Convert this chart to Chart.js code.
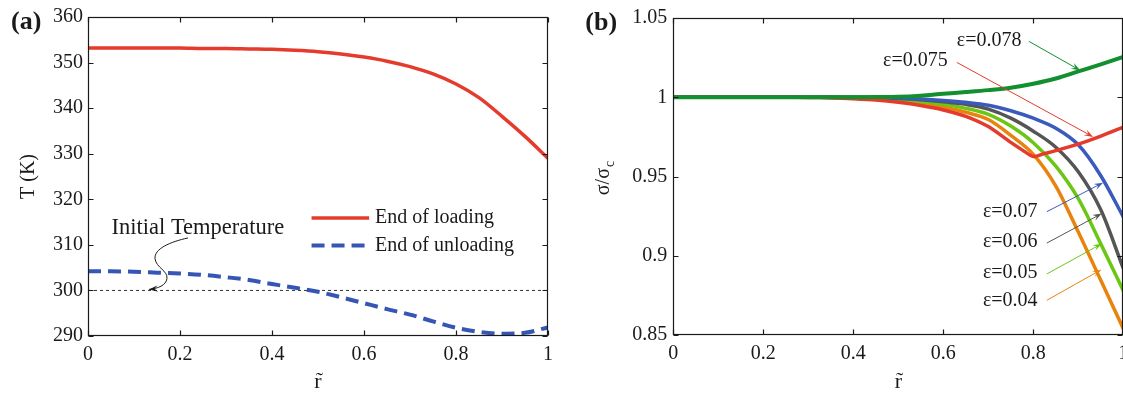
<!DOCTYPE html>
<html>
<head>
<meta charset="utf-8">
<script src="https://cdn.jsdelivr.net/npm/chart.js@4.4.0/dist/chart.umd.min.js"></script>
<style>
  html, body { margin: 0; padding: 0; background: #fff; overflow: hidden; }
  body { width: 1123px; height: 395px; position: relative; }
  .panel { position: absolute; top: 0; height: 395px; }
  #panelA { left: 0; width: 560px; }
  #panelB { left: 560px; width: 600px; }
</style>
</head>
<body>
<div class="panel" id="panelA"><canvas id="chartA"></canvas></div>
<div class="panel" id="panelB"><canvas id="chartB"></canvas></div>
<script>
// radial positions (normalised radius)
const rGrid = [0, 0.05, 0.1, 0.15, 0.2, 0.25, 0.3, 0.35, 0.4, 0.45, 0.5,
               0.55, 0.6, 0.65, 0.7, 0.75, 0.8, 0.85, 0.9, 0.95, 1];
const rTicks = [0, 0.2, 0.4, 0.6, 0.8, 1];
const tTicks = [290, 300, 310, 320, 330, 340, 350, 360];
const sTicks = [0.85, 0.9, 0.95, 1, 1.05];

// (a) temperature across the radius, K
const tLoading = [353.2, 353.2, 353.2, 353.2, 353.2, 353.1, 353.1, 353.0, 352.9, 352.7, 352.4,
                  351.9, 351.2, 350.3, 349.1, 347.5, 345.3, 342.3, 338.2, 333.8, 329.0];
const tUnloading = [304.2, 304.2, 304.1, 303.9, 303.7, 303.4, 302.9, 302.3, 301.4, 300.6, 299.7,
                    298.5, 297.2, 295.9, 294.7, 293.2, 291.8, 290.9, 290.5, 290.7, 291.9];
const tInitial = 300;
const seriesNamesA = ['End of loading', 'End of unloading'];

// (b) sigma / sigma_c for each strain level
const epsNames = ['ε=0.078', 'ε=0.075', 'ε=0.07', 'ε=0.06', 'ε=0.05', 'ε=0.04'];
const s078 = [1, 1, 1, 1, 1, 1, 1, 1, 1, 1.0001, 1.0003,
              1.0010, 1.0022, 1.0033, 1.0045, 1.0060, 1.0085, 1.0118, 1.0163, 1.0208, 1.0255];
// the 0.075 curve has a sharp turn near r = 0.8, so it gets two extra samples there
const r075 = [0, 0.05, 0.1, 0.15, 0.2, 0.25, 0.3, 0.35, 0.4, 0.45, 0.5,
              0.55, 0.6, 0.65, 0.7, 0.75, 0.775, 0.8, 0.825, 0.85, 0.9, 0.95, 1];
const s075 = [1, 1, 1, 1, 1, 1, 0.9999, 0.9996, 0.9990, 0.9982, 0.9968,
              0.9948, 0.9920, 0.9880, 0.9815, 0.9715, 0.9668, 0.9626, 0.9645, 0.9663, 0.9704, 0.9755, 0.9812];
const s070 = [1, 1, 1, 1, 1, 1, 1, 1, 1, 0.9998, 0.9995,
              0.9989, 0.9980, 0.9968, 0.9950, 0.9915, 0.9868, 0.9805, 0.9700, 0.9505, 0.9245];
const s060 = [1, 1, 1, 1, 1, 1, 1, 1, 1, 0.9997, 0.9992,
              0.9984, 0.9972, 0.9955, 0.9925, 0.9868, 0.9786, 0.9685, 0.9530, 0.9290, 0.8920];
const s050 = [1, 1, 1, 1, 1, 1, 1, 1, 0.9998, 0.9993, 0.9985,
              0.9973, 0.9955, 0.9930, 0.9892, 0.9818, 0.9713, 0.9565, 0.9360, 0.9075, 0.8780];
const s040 = [1, 1, 1, 1, 1, 1, 1, 1, 0.9996, 0.9988, 0.9976,
              0.9960, 0.9938, 0.9905, 0.9860, 0.9760, 0.9640, 0.9440, 0.9150, 0.8845, 0.8540];

const pts = (xs, ys) => xs.map((x, i) => ({ x: x, y: ys[i] }));

const SERIF = "'Liberation Serif', 'Times New Roman', serif";
const INK = '#1a1a1a';
Chart.defaults.font.family = SERIF;
Chart.defaults.font.size = 20;
Chart.defaults.color = INK;

// box round the plot with inward ticks on all four sides
const frameTicks = {
  id: 'frameTicks',
  afterDatasetsDraw(chart) {
    const { ctx, chartArea: a, scales: { x, y } } = chart;
    const L = Math.round(a.left) + 0.5, R = Math.round(a.right) - 0.5;
    const T = Math.round(a.top) + 0.5, B = Math.round(a.bottom) - 0.5;
    ctx.save();
    ctx.strokeStyle = INK;
    ctx.lineWidth = 1.2;
    ctx.strokeRect(L, T, R - L, B - T);
    ctx.beginPath();
    x.ticks.forEach(t => {
      const px = Math.round(x.getPixelForValue(t.value)) + 0.5;
      ctx.moveTo(px, B); ctx.lineTo(px, B - 5);
      ctx.moveTo(px, T); ctx.lineTo(px, T + 5);
    });
    y.ticks.forEach(t => {
      const py = Math.round(y.getPixelForValue(t.value)) + 0.5;
      ctx.moveTo(L, py); ctx.lineTo(L + 5, py);
      ctx.moveTo(R, py); ctx.lineTo(R - 5, py);
    });
    ctx.stroke();
    ctx.restore();
  }
};

// thin annotation arrow with a notched head
function arrow(ctx, x0, y0, x1, y1, color) {
  const ang = Math.atan2(y1 - y0, x1 - x0);
  const c = Math.cos(ang), s = Math.sin(ang);
  const len = 9, half = 3.2;
  ctx.save();
  ctx.strokeStyle = color;
  ctx.fillStyle = color;
  ctx.lineWidth = 1;
  ctx.beginPath();
  ctx.moveTo(x0, y0);
  ctx.lineTo(x1 - c * len * 0.6, y1 - s * len * 0.6);
  ctx.stroke();
  arrowHead(ctx, x1, y1, ang, len, half);
  ctx.restore();
}

function arrowHead(ctx, x1, y1, ang, len, half) {
  const c = Math.cos(ang), s = Math.sin(ang);
  ctx.beginPath();
  ctx.moveTo(x1, y1);
  ctx.lineTo(x1 - c * len + s * half, y1 - s * len - c * half);
  ctx.lineTo(x1 - c * len * 0.6, y1 - s * len * 0.6);
  ctx.lineTo(x1 - c * len - s * half, y1 - s * len + c * half);
  ctx.closePath();
  ctx.fill();
}

function panelLabel(ctx, text, x, y) {
  ctx.save();
  ctx.font = 'bold 26px ' + SERIF;
  ctx.fillStyle = INK;
  ctx.textBaseline = 'alphabetic';
  ctx.textAlign = 'left';
  ctx.fillText(text, x, y);
  ctx.restore();
}

// plain tick text: 1, 0.9, 0.85 ...
const plainTick = v => String(v);

// ---------- (a) ----------
const annotA = {
  id: 'annotA',
  afterDraw(chart) {
    const { ctx, chartArea: a, scales: { x, y } } = chart;
    const P = (r, t) => [x.getPixelForValue(r), y.getPixelForValue(t)];
    panelLabel(ctx, '(a)', a.left - 77, a.top + 12);

    // "Initial Temperature" with its curly pointer down to the 300 K line
    ctx.save();
    ctx.font = '22.5px ' + SERIF;
    ctx.fillStyle = INK;
    ctx.textAlign = 'center';
    ctx.textBaseline = 'alphabetic';
    const tp = P(0.239, 312.4);
    ctx.fillText('Initial Temperature', tp[0], tp[1]);

    const path = [
      [0.2174, 311.52],
      [0.1783, 310.65], [0.1435, 309.13], [0.1457, 306.96],
      [0.1478, 305.00], [0.1739, 304.35], [0.1717, 302.61],
      [0.1696, 301.09], [0.1522, 300.43], [0.1326, 300.22]
    ].map(p => P(p[0], p[1]));
    ctx.strokeStyle = INK;
    ctx.fillStyle = INK;
    ctx.lineWidth = 1;
    ctx.beginPath();
    ctx.moveTo(path[0][0], path[0][1]);
    for (let i = 1; i < path.length; i += 3) {
      ctx.bezierCurveTo(path[i][0], path[i][1], path[i + 1][0], path[i + 1][1], path[i + 2][0], path[i + 2][1]);
    }
    ctx.stroke();
    const tip = path[path.length - 1], prev = path[path.length - 2];
    arrowHead(ctx, tip[0], tip[1], Math.atan2(tip[1] - prev[1], tip[0] - prev[0]), 9, 3.2);
    ctx.restore();

    // legend
    ctx.save();
    const lp = P(0.486, 315.9);
    ctx.font = '20px ' + SERIF;
    ctx.textBaseline = 'middle';
    ctx.textAlign = 'left';
    [0, 1].forEach(i => {
      const ds = chart.data.datasets[i];
      const yy = lp[1] + i * 27.6;
      ctx.strokeStyle = ds.borderColor;
      ctx.lineWidth = ds.borderWidth;
      ctx.setLineDash(ds.borderDash || []);
      ctx.beginPath();
      ctx.moveTo(lp[0], yy);
      ctx.lineTo(lp[0] + 57.6, yy);
      ctx.stroke();
      ctx.setLineDash([]);
      ctx.fillStyle = INK;
      ctx.fillText(ds.label, lp[0] + 63.5, yy);
    });
    ctx.restore();
  }
};

new Chart(document.getElementById('chartA'), {
  type: 'line',
  data: {
    datasets: [
      {
        label: seriesNamesA[0],
        data: pts(rGrid, tLoading),
        borderColor: '#e53b2c',
        borderWidth: 3.5,
        cubicInterpolationMode: 'monotone'
      },
      {
        label: seriesNamesA[1],
        data: pts(rGrid, tUnloading),
        borderColor: '#3656b6',
        borderWidth: 4,
        borderDash: [13, 7],
        cubicInterpolationMode: 'monotone'
      },
      {
        label: 'Initial Temperature',
        data: pts([0, 1], [tInitial, tInitial]),
        borderColor: '#333333',
        borderWidth: 1,
        borderDash: [3, 3]
      }
    ]
  },
  options: {
    responsive: true,
    maintainAspectRatio: false,
    animation: false,
    events: [],
    elements: { point: { radius: 0 } },
    layout: { padding: { left: 0, right: 12, top: 14, bottom: 0 } },
    plugins: { legend: { display: false }, tooltip: { enabled: false } },
    scales: {
      x: {
        type: 'linear', min: 0, max: 1,
        grid: { display: false, drawTicks: false },
        border: { display: false },
        ticks: { padding: 7, color: INK, callback: plainTick },
        afterBuildTicks: s => { s.ticks = rTicks.map(v => ({ value: v })); },
        afterFit: s => { s.height = 59; },
        title: { display: true, text: 'r\u0303', color: INK, font: { size: 22 }, padding: { top: 0, bottom: 0 } }
      },
      y: {
        type: 'linear', min: 290, max: 360,
        grid: { display: false, drawTicks: false },
        border: { display: false },
        ticks: { padding: 5, color: INK, callback: plainTick },
        afterBuildTicks: s => { s.ticks = tTicks.map(v => ({ value: v })); },
        afterFit: s => { s.width = 88; },
        title: { display: true, text: 'T (K)', color: INK, padding: { top: 17, bottom: 0 } }
      }
    }
  },
  plugins: [frameTicks, annotA]
});

// ---------- (b) ----------
const epsColors = ['#12902f', '#e53b2c', '#3a5abd', '#555555', '#6cc614', '#e8830c'];

// label anchor (left edge, middle) and arrow start/end, in data units
const epsNotes = [
  { at: [0.630, 1.0359], from: [0.790, 1.0353], to: [0.904, 1.0170] },
  { at: [0.466, 1.0229], from: [0.630, 1.0220], to: [0.933, 0.9750] },
  { at: [0.688, 0.9278], from: [0.830, 0.9278], to: [0.955, 0.9461] },
  { at: [0.688, 0.9086], from: [0.830, 0.9080], to: [0.952, 0.9266] },
  { at: [0.688, 0.8893], from: [0.830, 0.8885], to: [0.952, 0.9076] },
  { at: [0.688, 0.8719], from: [0.830, 0.8719], to: [0.951, 0.8912] }
];

const annotB = {
  id: 'annotB',
  afterDraw(chart) {
    const { ctx, chartArea: a, scales: { x, y } } = chart;
    const P = (r, v) => [x.getPixelForValue(r), y.getPixelForValue(v)];
    panelLabel(ctx, '(b)', a.left - 88, a.top + 12);

    // y title: sigma / sigma with subscript c
    ctx.save();
    ctx.translate(a.left - 70, (a.top + a.bottom) / 2 + 2);
    ctx.rotate(-Math.PI / 2);
    ctx.fillStyle = INK;
    ctx.textBaseline = 'middle';
    ctx.textAlign = 'left';
    ctx.font = '20px ' + SERIF;
    const main = 'σ/σ';
    const w1 = ctx.measureText(main).width;
    ctx.font = '14px ' + SERIF;
    const w2 = ctx.measureText('c').width;
    const x0 = -(w1 + w2) / 2;
    ctx.font = '20px ' + SERIF;
    ctx.fillText(main, x0, 0);
    ctx.font = '14px ' + SERIF;
    ctx.fillText('c', x0 + w1 + 1, 7);
    ctx.restore();

    ctx.save();
    ctx.font = '20px ' + SERIF;
    ctx.textBaseline = 'middle';
    ctx.textAlign = 'left';
    epsNotes.forEach((n, i) => {
      const t = P(n.at[0], n.at[1]);
      ctx.fillStyle = INK;
      ctx.fillText(epsNames[i], t[0], t[1]);
      const f = P(n.from[0], n.from[1]), e = P(n.to[0], n.to[1]);
      arrow(ctx, f[0], f[1], e[0], e[1], epsColors[i]);
    });
    ctx.restore();
  }
};

const stressSets = [
  pts(rGrid, s078), pts(r075, s075), pts(rGrid, s070),
  pts(rGrid, s060), pts(rGrid, s050), pts(rGrid, s040)
];

new Chart(document.getElementById('chartB'), {
  type: 'line',
  data: {
    datasets: stressSets.map((d, i) => ({
      label: epsNames[i],
      data: d,
      borderColor: epsColors[i],
      borderWidth: i === 0 ? 4 : 3.5,
      tension: i === 1 ? 0.25 : 0.4,
      cubicInterpolationMode: i === 1 ? 'default' : 'monotone'
    }))
  },
  options: {
    responsive: true,
    maintainAspectRatio: false,
    animation: false,
    events: [],
    elements: { point: { radius: 0 } },
    layout: { padding: { left: 0, right: 36.7, top: 13.3, bottom: 0 } },
    plugins: { legend: { display: false }, tooltip: { enabled: false } },
    scales: {
      x: {
        type: 'linear', min: 0, max: 1,
        grid: { display: false, drawTicks: false },
        border: { display: false },
        ticks: { padding: 7, color: INK, callback: plainTick },
        afterBuildTicks: s => { s.ticks = rTicks.map(v => ({ value: v })); },
        afterFit: s => { s.height = 60; },
        title: { display: true, text: 'r\u0303', color: INK, font: { size: 22 }, padding: { top: 0, bottom: 0 } }
      },
      y: {
        type: 'linear', min: 0.85, max: 1.05,
        grid: { display: false, drawTicks: false },
        border: { display: false },
        ticks: { padding: 6, color: INK, callback: plainTick },
        afterBuildTicks: s => { s.ticks = sTicks.map(v => ({ value: v })); },
        afterFit: s => { s.width = 113.3; },
        title: { display: false }
      }
    }
  },
  plugins: [frameTicks, annotB]
});
</script>
</body>
</html>
